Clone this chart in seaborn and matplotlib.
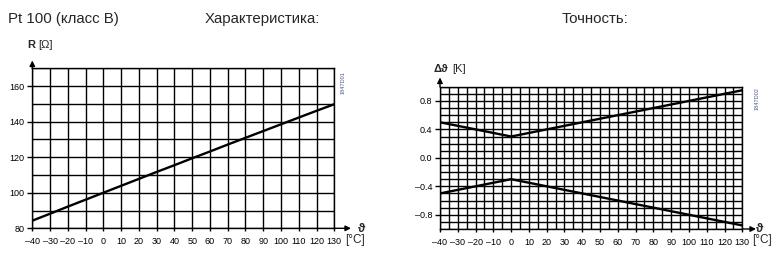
import matplotlib
matplotlib.use("Agg")
import matplotlib.pyplot as plt
import matplotlib.patches as mpatches
import seaborn as sns
import pandas as pd
import numpy as np

# ---- data ----
temps = [-40, -30, -20, -10, 0, 10, 20, 30, 40, 50, 60, 70, 80, 90, 100, 110, 120, 130]
resistance = [84.3, 88.2, 92.2, 96.1, 100.0, 103.9, 107.8, 111.7, 115.5, 119.4,
              123.2, 127.1, 130.9, 134.7, 138.5, 142.3, 146.1, 149.8]
acc_temps = [-40, 0, 130]
acc_upper = [0.5, 0.3, 0.95]
acc_lower = [-0.5, -0.3, -0.95]
x_ticks = [-40, -30, -20, -10, 0, 10, 20, 30, 40, 50, 60, 70, 80, 90, 100, 110, 120, 130]
r_ticks = [80, 100, 120, 140, 160]
d_ticks = [-0.8, -0.4, 0.0, 0.4, 0.8]

sns.set_theme(style="white")
plt.rcParams['font.family'] = ['Liberation Sans', 'DejaVu Sans']

fig = plt.figure(figsize=(7.84, 2.56), dpi=100)
W, H = 784, 256

def axes_px(x0, x1, ytop, ybot):
    return fig.add_axes([x0 / W, (H - ybot) / H, (x1 - x0) / W, (ybot - ytop) / H])

ax1 = axes_px(32.3, 334.3, 68.3, 228.3)
ax2 = axes_px(440.0, 742.3, 86.7, 229.0)

df_r = pd.DataFrame({"t": temps, "R": resistance})
df_a = pd.DataFrame({"t": acc_temps * 2,
                     "d": acc_upper + acc_lower,
                     "s": ["up"] * 3 + ["low"] * 3})

sns.lineplot(data=df_r, x="t", y="R", ax=ax1, color="black", lw=1.7)
sns.lineplot(data=df_a, x="t", y="d", units="s", estimator=None, ax=ax2,
             color="black", lw=1.7)

def fmt(v, dec=False):
    s = f"{v:.1f}" if dec else f"{v}"
    return s.replace("-", "–")

def style(ax, xlim, ylim, xminor, yminor, yt, dec):
    ax.set_xlim(*xlim)
    ax.set_ylim(*ylim)
    ax.set_xticks(x_ticks)
    ax.set_xticklabels([fmt(v) for v in x_ticks])
    ax.set_yticks(yt)
    ax.set_yticklabels([fmt(v, dec) for v in yt])
    ax.set_xticks(xminor, minor=True)
    ax.set_yticks(yminor, minor=True)
    ax.grid(True, which="both", color="black", lw=1.0)
    ax.set_axisbelow(True)
    for sp in ax.spines.values():
        sp.set_color("black")
        sp.set_linewidth(1.0)
    ax.tick_params(axis="x", which="major", direction="out", length=2.5, width=1.0,
                   pad=4.0, labelsize=6.5, colors="black", bottom=True)
    ax.tick_params(axis="y", which="major", direction="out", length=3.5, width=1.0,
                   pad=2, labelsize=6.5, colors="black", left=True)
    ax.tick_params(which="minor", length=0)
    ax.set_xlabel("")
    ax.set_ylabel("")
    ax.set_facecolor("white")

style(ax1, (-40, 130), (80, 170), np.arange(-40, 131, 10), np.arange(80, 171, 10),
      r_ticks, False)
style(ax2, (-40, 130), (-1.0, 1.0), np.arange(-40, 131, 5), np.arange(-1.0, 1.01, 0.1),
      d_ticks, True)

def px_arrow(x0, y0, x1, y1):
    fig.add_artist(mpatches.FancyArrowPatch(
        (x0 / W, (H - y0) / H), (x1 / W, (H - y1) / H), transform=fig.transFigure,
        arrowstyle="-|>", mutation_scale=8, color="black", lw=1.0, shrinkA=0, shrinkB=0))

# axis arrows
px_arrow(334.3, 228.3, 351, 228.3)
px_arrow(32.3, 68.5, 32.3, 60.5)
px_arrow(742.3, 229.0, 756, 229.0)
px_arrow(440.0, 86.8, 440.0, 77.5)

def ftext(x, y, s, **kw):
    fig.text(x / W, (H - y) / H, s, **kw)

# titles
ftext(8, 19, "Pt 100 (класс B)", fontsize=10.8, va="center", ha="left")
ftext(205, 19, "Характеристика:", fontsize=10.8, va="center", ha="left")
ftext(562, 19, "Точность:", fontsize=10.8, va="center", ha="left")

# axis labels
ftext(27, 45.5, "R", fontsize=8, va="center", ha="left", fontweight="bold")
ftext(38, 45.5, "[Ω]", fontsize=8, va="center", ha="left")
ftext(433, 69, "Δϑ", fontsize=8, va="center", ha="left", fontweight="bold")
ftext(452, 69, "[K]", fontsize=8, va="center", ha="left")

ftext(361, 228.5, "ϑ", fontsize=9, va="center", ha="center", fontweight="bold")
ftext(355, 240.5, "[°C]", fontsize=8.5, va="center", ha="center")
ftext(760, 228.5, "ϑ", fontsize=9, va="center", ha="center", fontweight="bold")
ftext(762, 240.5, "[°C]", fontsize=8.5, va="center", ha="center")

# drawing codes
ftext(343, 83, "1847D01", fontsize=4, rotation=90, va="center", ha="center", color="#4a5a80")
ftext(757, 99, "1847D02", fontsize=4, rotation=90, va="center", ha="center", color="#4a5a80")

fig.savefig("out.png", dpi=100, facecolor="white")
